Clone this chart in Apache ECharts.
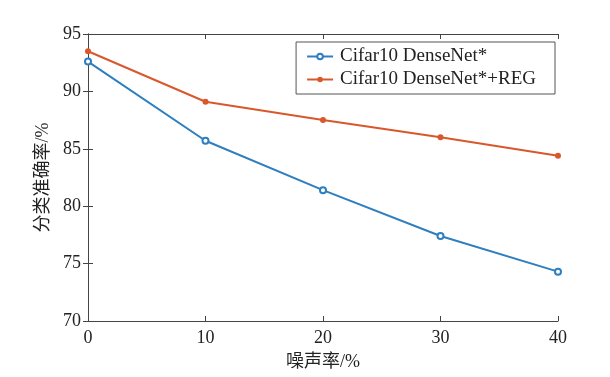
<!DOCTYPE html>
<html>
<head>
<meta charset="utf-8">
<script src="https://cdn.jsdelivr.net/npm/echarts@6/dist/echarts.min.js"></script>
<style>
  html, body { margin: 0; padding: 0; background: #fff; }
  #chart { width: 610px; height: 377px; }
</style>
</head>
<body>
<div id="chart"></div>
<script>
// 噪声率 (%)
const noiseRates = [0, 10, 20, 30, 40]
const denseNet = [92.6, 85.7, 81.4, 77.4, 74.3]
const denseNetReg = [93.5, 89.1, 87.5, 86.0, 84.4]
const seriesNames = ['Cifar10 DenseNet*', 'Cifar10 DenseNet*+REG']

const fontFamily = '"Liberation Serif", "Noto Sans CJK SC", serif'
const axisColor = '#444'

const toPairs = (ys) => noiseRates.map((x, i) => [x, ys[i]])

// 顶部和右侧只画刻度，形成封闭边框
const tickOnly = {
  axisLine: { show: true, lineStyle: { color: axisColor, width: 1 } },
  axisTick: { show: true, inside: true, length: 5, lineStyle: { color: axisColor } },
  axisLabel: { show: false },
  splitLine: { show: false },
}

const option = {
  backgroundColor: '#fff',
  textStyle: { fontFamily: fontFamily },
  grid: { left: 88, right: 52, top: 34, bottom: 56 },
  legend: {
    right: 55,
    top: 42,
    orient: 'vertical',
    itemGap: 4,
    itemWidth: 26,
    itemHeight: 7,
    padding: [5, 19, 5, 10],
    borderColor: '#555',
    borderWidth: 1,
    backgroundColor: '#fff',
    textStyle: { fontFamily: fontFamily, fontSize: 19, color: '#222', padding: [0, 0, 0, 2] },
    data: seriesNames,
  },
  xAxis: [
    {
      type: 'value',
      min: 0,
      max: 40,
      interval: 10,
      name: '噪声率/%',
      nameLocation: 'middle',
      nameGap: 32,
      nameTextStyle: { fontFamily: fontFamily, fontSize: 18, color: '#222' },
      axisLine: { show: true, lineStyle: { color: axisColor, width: 1 } },
      axisTick: { show: true, inside: true, length: 5, lineStyle: { color: axisColor } },
      axisLabel: { fontFamily: fontFamily, fontSize: 18, color: '#222', margin: 8 },
      splitLine: { show: false },
    },
    Object.assign({ type: 'value', position: 'top', min: 0, max: 40, interval: 10 }, tickOnly),
  ],
  yAxis: [
    {
      type: 'value',
      min: 70,
      max: 95,
      interval: 5,
      name: '分类准确率/%',
      nameLocation: 'middle',
      nameGap: 33,
      nameTextStyle: { fontFamily: fontFamily, fontSize: 18, color: '#222' },
      axisLine: { show: true, lineStyle: { color: axisColor, width: 1 } },
      axisTick: { show: true, inside: true, length: 5, lineStyle: { color: axisColor } },
      axisLabel: { fontFamily: fontFamily, fontSize: 18, color: '#222', margin: 7 },
      splitLine: { show: false },
    },
    Object.assign({ type: 'value', position: 'right', min: 70, max: 95, interval: 5 }, tickOnly),
  ],
  series: [
    {
      name: seriesNames[0],
      type: 'line',
      data: toPairs(denseNet),
      color: '#2e7ec0',
      symbol: 'emptyCircle',
      symbolSize: 6,
      lineStyle: { width: 2 },
      itemStyle: { borderWidth: 1.5 },
    },
    {
      name: seriesNames[1],
      type: 'line',
      data: toPairs(denseNetReg),
      color: '#d9582b',
      symbol: 'circle',
      symbolSize: 6,
      lineStyle: { width: 2 },
    },
  ],
}

const chart = echarts.init(document.getElementById('chart'))
chart.setOption(option)
window.onresize = function () {
  chart.resize()
}
</script>
</body>
</html>
